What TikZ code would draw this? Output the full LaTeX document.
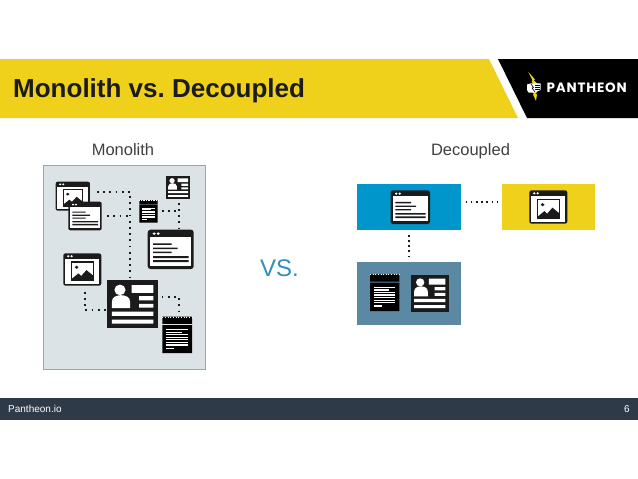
\documentclass[tikz,border=0pt]{standalone}
\usepackage{fontspec}
\setmainfont{Liberation Sans}
\newfontfamily\logofont[LetterSpace=6]{Poppins}
\usetikzlibrary{positioning}
\definecolor{bandyellow}{HTML}{EFD01B}
\definecolor{inkblack}{HTML}{1B1B1B}
\definecolor{panelgrey}{HTML}{DCE3E6}
\definecolor{panelline}{HTML}{9FA5A6}
\definecolor{apiblue}{HTML}{0096CC}
\definecolor{dataslate}{HTML}{5B88A3}
\definecolor{footdark}{HTML}{2F3A48}
\definecolor{vsblue}{HTML}{2F8FBF}
\definecolor{labelgrey}{HTML}{404040}
\tikzset{
    region/.style={rectangle, draw=none, inner sep=0pt, outer sep=0pt, anchor=north west},
    iconbox/.style={rectangle, draw=none, inner sep=0pt, outer sep=0pt, anchor=north west},
    dots/.style={draw=inkblack, line width=1.8pt, dash pattern=on 1.8pt off 4.4pt},
    finedots/.style={draw=inkblack, line width=1.7pt, dash pattern=on 1.7pt off 3.5pt},
    sidelabel/.style={font=\fontsize{16.5}{20}\selectfont, text=labelgrey, anchor=base, inner sep=0pt},
    footlabel/.style={font=\fontsize{10}{12}\selectfont, text=white},
}
% browser window with text lines: name, x, y, w, h
\newcommand{\browsertext}[5]{
    \node[iconbox, minimum width=#4pt, minimum height=#5pt] (#1) at (#2,#3) {};
    \pgfmathsetmacro{\iconradius}{#4*0.06}
    \begin{scope}[shift={(#2,#3)}, x=#4pt/100, y=-#5pt/100]
        \fill[inkblack, rounded corners=\iconradius pt] (0,0) rectangle (100,100);
        \fill[white] (6,18) rectangle (94,92);
        \fill[white] (14,10) circle (3.5) (23,10) circle (3.5);
        \fill[inkblack] (12,34.5) rectangle (52,38.5) (12,45.5) rectangle (65,49.5) (12,55.5) rectangle (52,59.5);
        \fill[inkblack] (12,67.5) rectangle (89,72.5) (12,77.5) rectangle (89,82.5);
    \end{scope}
}
% browser window with a picture: name, x, y, w, h
\newcommand{\browserimage}[5]{
    \node[iconbox, minimum width=#4pt, minimum height=#5pt] (#1) at (#2,#3) {};
    \pgfmathsetmacro{\iconradius}{#4*0.06}
    \begin{scope}[shift={(#2,#3)}, x=#4pt/100, y=-#5pt/100]
        \fill[inkblack, rounded corners=\iconradius pt] (0,0) rectangle (100,100);
        \fill[white] (5,17) rectangle (95,94);
        \fill[white] (13,9) circle (3.5) (22,9) circle (3.5);
        \draw[inkblack, line width=#4pt*0.03] (22,27) rectangle (79,85);
        \fill[inkblack] (35,43) circle (5);
        \fill[inkblack] (23,84) -- (23,78) -- (40,62) -- (47,70) -- (61,52) -- (78,68) -- (78,84) -- cycle;
    \end{scope}
}
% person card: name, x, y, w, h
\newcommand{\personcard}[5]{
    \node[iconbox, minimum width=#4pt, minimum height=#5pt] (#1) at (#2,#3) {};
    \begin{scope}[shift={(#2,#3)}, x=#4pt/100, y=-#5pt/100]
        \fill[inkblack] (0,0) rectangle (100,100);
        \fill[white] (25,20) circle (11);
        \fill[white] (9,58) -- (9,45) .. controls (9,35) and (18,31) .. (27,31) .. controls (36,31) and (45,35) .. (45,45) -- (45,58) -- cycle;
        \fill[white] (48,10) rectangle (91,26) (63,33) rectangle (91,42) (63,49) rectangle (91,57);
        \fill[white] (9,65) rectangle (91,74) (9,82) rectangle (91,90);
    \end{scope}
}
% notepad: name, x, y, w, h
\newcommand{\notepad}[5]{
    \node[iconbox, minimum width=#4pt, minimum height=#5pt] (#1) at (#2,#3) {};
    \begin{scope}[shift={(#2,#3)}, x=#4pt/100, y=-#5pt/100]
        \fill[black] (0,0) rectangle (100,20) (0,23) rectangle (100,100);
        \draw[white, line width=#5pt*0.02, dash pattern=on #4pt*0.03 off #4pt*0.06] (0,1) -- (100,1);
        \foreach \liney in {34,48,55,62,69} {
            \fill[white] (14,\liney) rectangle (85,\liney+3.4);
        }
        \fill[white] (14,41) rectangle (66,44.4);
        \fill[white] (14,76) rectangle (85,79.4);
        \fill[white] (14,85) rectangle (40,88.4);
    \end{scope}
}

\begin{document}
\frenchspacing
\begin{tikzpicture}[x=1pt, y=-1pt]
\useasboundingbox (0,0) rectangle (638,479);

% ── Header band ──
\fill[bandyellow] (0,59) -- (489,59) -- (518,118) -- (0,118) -- cycle;
\fill[black] (498,59) -- (638,59) -- (638,118) -- (527,118) -- cycle;
\node[font=\bfseries\fontsize{26}{30}\selectfont, text=inkblack, anchor=west, inner sep=0pt] (title) at (13,91) {Monolith vs. Decoupled};

% Logo
\fill[bandyellow] (528.3,72) -- (535,79.5) -- (533.5,80) -- (537.5,84) -- (533,84) -- (531.5,81) -- (532.5,80.5) -- cycle;
\fill[bandyellow] (532,92) -- (537,92) -- (535.5,94) -- (537,94.5) -- (536,101) -- (533,94.5) -- (534,94) -- cycle;
\fill[white] (527,84.5) -- (531,83.3) -- (540.5,83.3) -- (540.5,90) -- (535,92.5) -- (528.5,92.5) -- (527,90) -- cycle;
\draw[black, line width=0.6pt] (531,84) -- (533.5,87.5) -- (532,88) -- (535,92);
\draw[black, line width=0.5pt] (535,85.7) -- (539.5,85.7) (535,87.5) -- (539.5,87.5) (535,89.3) -- (539.5,89.3);
\node[font=\logofont\bfseries\fontsize{13.5}{15}\selectfont, text=white, anchor=west, inner sep=0pt] (logo) at (546.5,87.7) {PANTHEON};

% ── Monolith ──
\node[sidelabel] (monolabel) at (123,155) {Monolith};
\node[region, fill=panelgrey, draw=panelline, line width=1pt, minimum width=161.5pt, minimum height=204pt] (panel) at (43.5,165) {};

\coordinate (bendmain) at (130,191.7);
\coordinate (bendpad) at (179.3,211);
\coordinate (bendcard) at (179.3,297.3);
\coordinate (bendimg) at (85,310);

\browserimage{imga}{55.7}{181.7}{34.3}{29}
\browsertext{pagea}{68.3}{201.7}{33.4}{28.6}
\notepad{pada}{139.3}{200}{18.4}{22.7}
\personcard{carda}{166}{176}{24.3}{23.3}
\browsertext{pageb}{147.7}{229.7}{46}{39.3}
\browserimage{imgb}{63.3}{253.3}{38}{32.4}
\personcard{cardb}{107.3}{280.3}{50.7}{48}
\notepad{padb}{162.3}{316.7}{29.7}{36.3}

\draw[dots, shorten <=7pt, shorten >=3.5pt] (imga.east |- bendmain) -- (bendmain) -- (bendmain |- cardb.north);
\draw[dots, shorten <=5.5pt] (pagea.east |- 0,215.7) -- (bendmain |- 0,215.7);
\draw[dots, shorten <=4pt] (pada.east |- bendpad) -- (bendpad);
\draw[dots, shorten <=3.5pt, shorten >=1.5pt] (carda.south -| bendpad) -- (pageb.north -| bendpad);
\draw[dots, shorten <=3.5pt, shorten >=1.5pt] (cardb.east |- bendcard) -- (bendcard) -- (bendcard |- padb.north);
\draw[dots, shorten <=6pt, shorten >=1.5pt] (imgb.south -| bendimg) -- (bendimg) -- (cardb.west |- bendimg);

% ── Decoupled ──
\node[sidelabel] (decolabel) at (470.5,155) {Decoupled};
\node[region, fill=apiblue, minimum width=103.7pt, minimum height=46.6pt] (front) at (357.3,183.7) {};
\node[region, fill=bandyellow, minimum width=93.3pt, minimum height=46.6pt] (media) at (501.7,183.7) {};
\node[region, fill=dataslate, minimum width=103.7pt, minimum height=62.7pt] (store) at (357.3,262.3) {};

\browsertext{pagec}{390.7}{190.3}{39.3}{33.7}
\browserimage{imgc}{529.3}{190.3}{38}{33.4}
\notepad{padc}{370}{274.3}{29.3}{36.7}
\personcard{cardc}{410.7}{275}{38}{36.7}

\draw[finedots, shorten <=4.5pt] (front.east |- 0,201.7) -- (media.west |- 0,201.7);
\draw[finedots, shorten <=4.5pt, shorten >=2pt] (front.south -| 409.3,0) -- (store.north -| 409.3,0);

\node[font=\fontsize{24}{28}\selectfont, text=vsblue] (versus) at (279.5,268) {VS.};

% ── Footer ──
\node[region, fill=footdark, minimum width=638pt, minimum height=22pt] (footer) at (0,398) {};
\node[footlabel, anchor=west, inner sep=0pt] (site) at (8,409) {Pantheon.io};
\node[footlabel, anchor=east, inner sep=0pt] (pagenum) at (630,409) {6};

\end{tikzpicture}
\end{document}
